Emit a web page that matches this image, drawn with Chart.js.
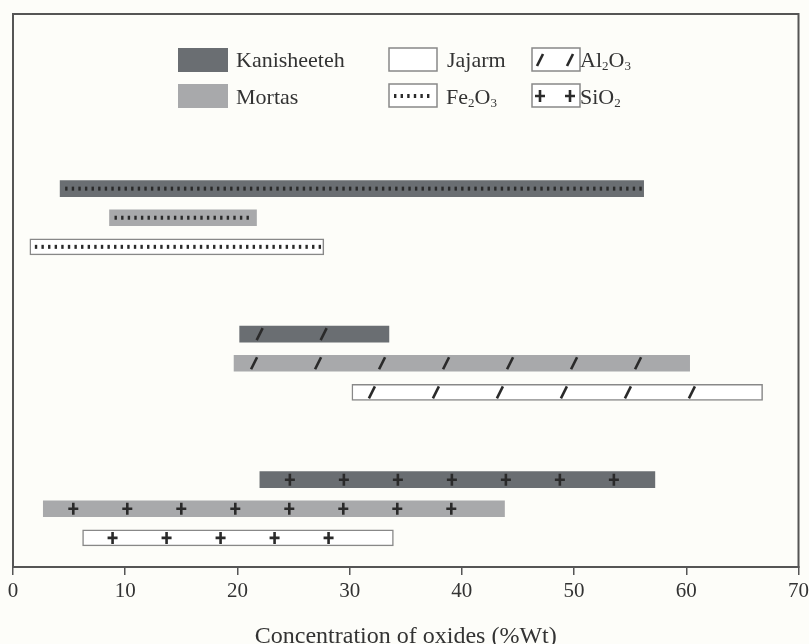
<!DOCTYPE html>
<html>
<head>
<meta charset="utf-8">
<script src="https://cdn.jsdelivr.net/npm/chart.js@4"></script>
<style>
  html, body { margin: 0; padding: 0; background: #fdfdf9; overflow: hidden; }
  #wrap { width: 813px; height: 654px; }
</style>
</head>
<body>
<div id="wrap"><canvas id="chartCanvas"></canvas></div>
<script>
// oxides, top to bottom
const oxides = ['Fe2O3', 'Al2O3', 'SiO2'];
// [min, max] concentration (%Wt) per oxide
const kanisheeteh = [[4.2, 56.2], [20.2, 33.5], [22.0, 57.2]];
const mortas = [[8.6, 21.7], [19.7, 60.3], [2.7, 43.8]];
const jajarm = [[1.5, 27.7], [30.2, 66.8], [6.2, 33.9]];
const xTicks = [0, 10, 20, 30, 40, 50, 60, 70];

// row slots on the y axis (blank slots keep the gaps between groups)
const nSlots = 20;
const firstRow = [6, 11, 16];
const rows = [];
for (let i = 0; i < nSlots; i++) rows.push('');
oxides.forEach((ox, g) => {
    rows[firstRow[g]] = ox + ' Kanisheeteh';
    rows[firstRow[g] + 1] = ox + ' Mortas';
    rows[firstRow[g] + 2] = ox + ' Jajarm';
});

function series(vals, offset) {
    const d = rows.map(() => null);
    vals.forEach((v, g) => { d[firstRow[g] + offset] = v; });
    return d;
}

const ink = '#2a2a2a';
const serif = "'Liberation Serif', 'DejaVu Serif', serif";

function dots(ctx, x0, x1, y) {
    ctx.fillStyle = ink;
    for (let x = x0 + 5; x < x1 - 4; x += 6.6) ctx.fillRect(x, y - 2, 2.4, 4);
}
function slash(ctx, x, y) {
    ctx.strokeStyle = ink; ctx.lineWidth = 2.6;
    ctx.beginPath(); ctx.moveTo(x - 3, y + 6); ctx.lineTo(x + 3, y - 6); ctx.stroke();
}
function plus(ctx, x, y) {
    ctx.strokeStyle = ink; ctx.lineWidth = 2.6;
    ctx.beginPath();
    ctx.moveTo(x - 5, y); ctx.lineTo(x + 5, y);
    ctx.moveTo(x, y - 6); ctx.lineTo(x, y + 6);
    ctx.stroke();
}

function chem(ctx, parts, x, y) {
    parts.forEach(p => {
        const sub = /\d/.test(p);
        ctx.font = (sub ? '13px ' : '22px ') + serif;
        ctx.fillText(p, x, sub ? y + 3 : y);
        x += ctx.measureText(p).width;
    });
}

const patterns = {
    id: 'patterns',
    afterDatasetsDraw(chart) {
        const ctx = chart.ctx;
        ctx.save();
        chart.data.datasets.forEach((ds, di) => {
            chart.getDatasetMeta(di).data.forEach((el, i) => {
                if (ds.data[i] == null) return;
                const p = el.getProps(['x', 'y', 'base']);
                const x0 = Math.min(p.x, p.base), x1 = Math.max(p.x, p.base);
                const ox = rows[i].split(' ')[0];
                if (ox === 'Fe2O3') dots(ctx, x0, x1, p.y);
                if (ox === 'Al2O3') for (let x = x0 + 20; x < x1 - 10; x += 64) slash(ctx, x, p.y);
                if (ox === 'SiO2') for (let x = x0 + 30; x < x1 - 12; x += 54) plus(ctx, x, p.y);
            });
        });
        ctx.restore();
    },
    afterDraw(chart) {
        const ctx = chart.ctx, a = chart.chartArea;
        ctx.save();
        ctx.strokeStyle = '#555'; ctx.lineWidth = 2;
        ctx.strokeRect(a.left, a.top, a.right - a.left, a.bottom - a.top);

        // legend
        ctx.fillStyle = '#6a6e72'; ctx.fillRect(178, 48, 50, 24);
        ctx.fillStyle = '#a8a9ab'; ctx.fillRect(178, 84, 50, 24);
        ctx.strokeStyle = '#888'; ctx.lineWidth = 1.5;
        ctx.fillStyle = '#fff';
        [[389, 48], [389, 84], [532, 48], [532, 84]].forEach(([x, y]) => {
            ctx.fillRect(x, y, 48, 23); ctx.strokeRect(x, y, 48, 23);
        });
        dots(ctx, 389, 437, 96);
        slash(ctx, 540, 60); slash(ctx, 570, 60);
        plus(ctx, 540, 96); plus(ctx, 570, 96);

        ctx.fillStyle = '#333'; ctx.textBaseline = 'alphabetic';
        ctx.font = '22px ' + serif;
        ctx.fillText('Kanisheeteh', 236, 67);
        ctx.fillText('Mortas', 236, 104);
        ctx.fillText('Jajarm', 447, 67);
        chem(ctx, ['Fe', '2', 'O', '3'], 446, 104);
        chem(ctx, ['Al', '2', 'O', '3'], 580, 67);
        chem(ctx, ['SiO', '2'], 580, 104);
        ctx.restore();
    }
};

const bar = { barThickness: 16, grouped: false, borderSkipped: false };

new Chart(document.getElementById('chartCanvas'), {
    type: 'bar',
    data: {
        labels: rows,
        datasets: [
            Object.assign({ label: 'Kanisheeteh', data: series(kanisheeteh, 0), backgroundColor: '#6a6e72' }, bar),
            Object.assign({ label: 'Mortas', data: series(mortas, 1), backgroundColor: '#a8a9ab' }, bar),
            Object.assign({ label: 'Jajarm', data: series(jajarm, 2), backgroundColor: '#ffffff',
                borderColor: '#888', borderWidth: 1.5 }, bar)
        ]
    },
    options: {
        indexAxis: 'y',
        responsive: true,
        maintainAspectRatio: false,
        animation: false,
        layout: { padding: { top: 14, left: 13, right: 11, bottom: 3 } },
        plugins: { legend: { display: false }, tooltip: { enabled: false } },
        scales: {
            y: { display: false, offset: false },
            x: {
                min: xTicks[0], max: xTicks[xTicks.length - 1],
                afterBuildTicks: s => { s.ticks = xTicks.map(v => ({ value: v })); },
                grid: { drawOnChartArea: false, tickLength: 8, color: '#555', lineWidth: 1.5 },
                border: { display: true, color: '#555', width: 2 },
                ticks: { color: '#333', font: { family: serif, size: 21 }, padding: 4 },
                title: { display: true, text: 'Concentration of oxides (%Wt)', color: '#333',
                    font: { family: serif, size: 24 }, padding: { top: 14, bottom: 0 } }
            }
        }
    },
    plugins: [patterns]
});
</script>
</body>
</html>
